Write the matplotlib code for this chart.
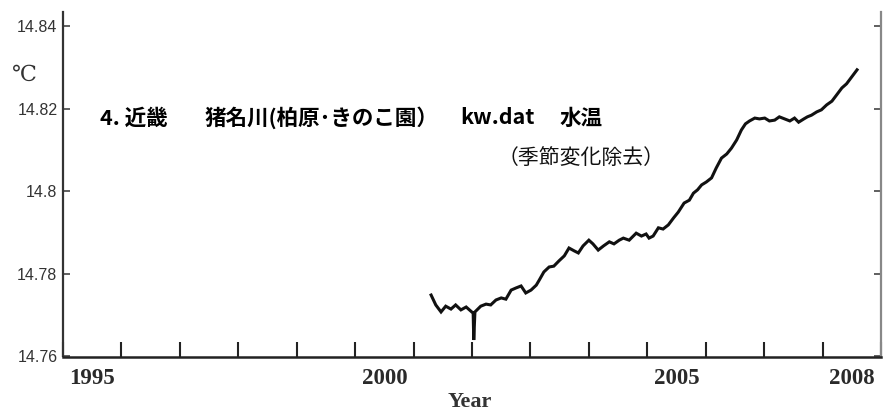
import matplotlib
matplotlib.use("Agg")
import matplotlib.pyplot as plt
from matplotlib.ticker import FixedLocator, FixedFormatter

plt.rcParams['font.family'] = ['Noto Sans CJK JP', 'DejaVu Sans']

# ---- data ----
years = [2001.30, 2001.38, 2001.47, 2001.55, 2001.64, 2001.72, 2001.81, 2001.90,
         2001.98, 2002.02, 2002.03, 2002.05, 2002.15, 2002.24, 2002.32, 2002.41,
         2002.50, 2002.58, 2002.67, 2002.75, 2002.84, 2002.92, 2003.01, 2003.10,
         2003.15, 2003.23, 2003.32, 2003.40, 2003.49, 2003.58, 2003.66, 2003.75,
         2003.82, 2003.90, 2004.00, 2004.07, 2004.16, 2004.25, 2004.35, 2004.43,
         2004.52, 2004.59, 2004.69, 2004.81, 2004.90, 2004.98, 2005.03, 2005.10,
         2005.19, 2005.27, 2005.36, 2005.45, 2005.53, 2005.63, 2005.72, 2005.79,
         2005.86, 2005.93, 2006.01, 2006.10, 2006.18, 2006.27, 2006.36, 2006.44,
         2006.53, 2006.61, 2006.68, 2006.75, 2006.84, 2006.92, 2007.01, 2007.09,
         2007.18, 2007.26, 2007.35, 2007.44, 2007.52, 2007.59, 2007.68, 2007.74,
         2007.81, 2007.90, 2007.98, 2008.07, 2008.16, 2008.24, 2008.33, 2008.41,
         2008.50, 2008.59]
temps = [14.7749, 14.7725, 14.7708, 14.7722, 14.7715, 14.7725, 14.7713, 14.7720,
         14.7710, 14.7705, 14.7640, 14.7708, 14.7722, 14.7727, 14.7725, 14.7737,
         14.7742, 14.7739, 14.7761, 14.7766, 14.7771, 14.7754, 14.7761, 14.7773,
         14.7785, 14.7805, 14.7817, 14.7819, 14.7832, 14.7844, 14.7863, 14.7856,
         14.7851, 14.7868, 14.7882, 14.7873, 14.7858, 14.7868, 14.7878, 14.7873,
         14.7882, 14.7887, 14.7882, 14.7899, 14.7892, 14.7897, 14.7887, 14.7892,
         14.7912, 14.7909, 14.7919, 14.7936, 14.7950, 14.7972, 14.7979, 14.7996,
         14.8004, 14.8016, 14.8023, 14.8033, 14.8057, 14.8081, 14.8091, 14.8105,
         14.8125, 14.8149, 14.8164, 14.8171, 14.8178, 14.8176, 14.8178, 14.8171,
         14.8173, 14.8181, 14.8176, 14.8171, 14.8178, 14.8168, 14.8176, 14.8181,
         14.8185, 14.8193, 14.8198, 14.8210, 14.8219, 14.8234, 14.8251, 14.8261,
         14.8278, 14.8295]

year_ticks = list(range(1995, 2010))
year_label_pos = [1995.5, 2000.5, 2005.5, 2008.5]
year_labels = ["1995", "2000", "2005", "2008"]
y_ticks = [14.76, 14.78, 14.80, 14.82, 14.84]
y_labels = ["14.76", "14.78", "14.8", "14.82", "14.84"]

fig = plt.figure(figsize=(8.85, 4.16), dpi=100)
ax = fig.add_axes([63/885, 1-356.5/416, (881-63)/885, (356.5-12)/416])

ax.plot(years, temps, color="#111111", lw=2.2, solid_joinstyle="miter")

ax.set_xlim(1995, 2009)
ax.set_ylim(14.76, 14.76 + (356.5-12)/4125)

ax.spines['top'].set_visible(False)
ax.spines['left'].set_color("#333333")
ax.spines['left'].set_linewidth(1.6)
ax.spines['bottom'].set_color("#222222")
ax.spines['bottom'].set_linewidth(1.8)
ax.spines['right'].set_color("#888888")
ax.spines['right'].set_linewidth(1.6)

# x axis: year ticks inward, labels centred within years
ax.xaxis.set_major_locator(FixedLocator(year_ticks))
ax.xaxis.set_major_formatter(FixedFormatter([""] * len(year_ticks)))
ax.xaxis.set_minor_locator(FixedLocator(year_label_pos))
ax.xaxis.set_minor_formatter(FixedFormatter(year_labels))
ax.tick_params(axis='x', which='major', direction='in', length=11, width=1.5,
               color="#222222")
ax.tick_params(axis='x', which='minor', length=0, pad=8, labelsize=16.5,
               labelcolor="#2a2a2a")
for lab in ax.get_xticklabels(minor=True):
    lab.set_family(["Liberation Serif"])
    lab.set_fontweight("bold")

# y axis
ax.set_yticks(y_ticks)
ax.set_yticklabels(y_labels)
ax.tick_params(axis='y', which='major', direction='in', length=5, width=1.2,
               color="#444444", left=True, right=True, labelsize=11.5,
               labelcolor="#333333", pad=4)
for lab in ax.get_yticklabels():
    lab.set_family(["Liberation Sans"])

# unit label
fig.text(12/885, 1-75/416, "℃", fontsize=16, color="#333333",
         family=["DejaVu Serif"], va="center", ha="left")

# x label
fig.text(470/885, 1-402/416, "Year", fontsize=16, fontweight="bold",
         family=["Liberation Serif"], color="#333333", ha="center", va="center")

# title pieces
ty = 1-118/416
kw = dict(fontsize=15.5, fontweight="bold", color="black", va="center", ha="left",
          family=['Noto Sans CJK JP', 'DejaVu Sans'])
fig.text(100/885, ty, "4. 近畿", **kw)
fig.text(205/885, ty, "猪名川(柏原･きのこ園）", **kw)
fig.text(460/885, ty, "kw.dat", **kw)
fig.text(560/885, ty, "水温", **kw)
fig.text(498/885, 1-158/416, "（季節変化除去）", fontsize=15, color="#111111",
         va="center", ha="left", family=['Noto Sans CJK JP', 'DejaVu Sans'])

fig.savefig("out.png", dpi=100)
